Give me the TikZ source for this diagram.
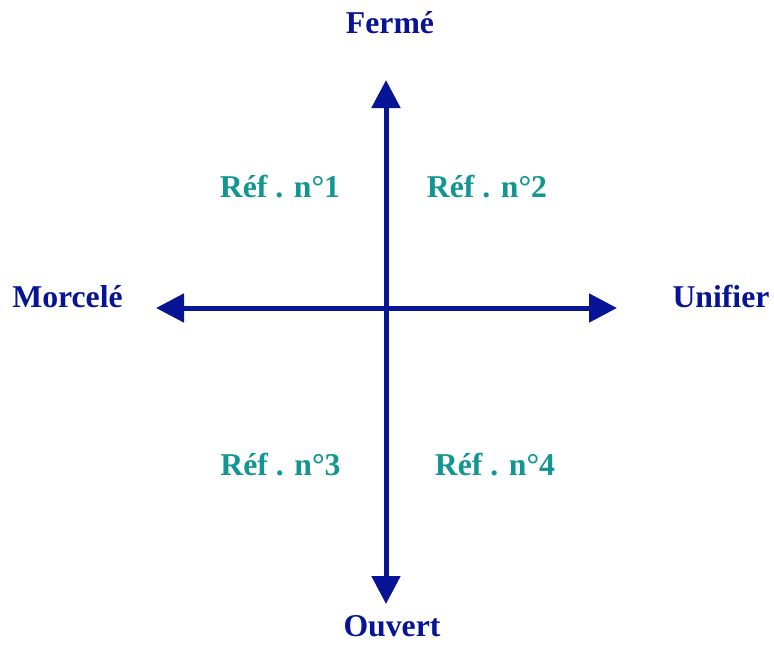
\documentclass[tikz,border=0pt]{standalone}
\usepackage{fontspec}
\setmainfont{Liberation Serif}
\usetikzlibrary{arrows.meta}
\definecolor{axisblue}{RGB}{8,20,150}
\definecolor{refteal}{RGB}{18,150,145}
\tikzset{
  axis/.style={draw=axisblue, line width=3.75pt, {Triangle[length=21pt,width=21pt]}-{Triangle[length=21pt,width=21pt]}},
  polelabel/.style={text=axisblue, font=\fontsize{23.8}{28}\selectfont\bfseries, anchor=base, inner sep=0pt},
  reflabel/.style={text=refteal, font=\fontsize{23.8}{28}\selectfont\bfseries, anchor=base, inner sep=0pt}
}
\begin{document}
\begin{tikzpicture}[x=0.75pt,y=-0.75pt]
\useasboundingbox (0,0) rectangle (774,644);
\coordinate (top) at (386,80);
\coordinate (bottom) at (386,604);
\coordinate (left) at (156,308);
\coordinate (right) at (617,308);
\draw[axis] (bottom) -- (top);
\draw[axis] (left) -- (right);
\node[polelabel] (ferme) at (390,33) {Fermé};
\node[polelabel] (ouvert) at (392,636) {Ouvert};
\node[polelabel] (morcele) at (67.5,307) {Morcelé};
\node[polelabel] (unifier) at (721,307) {Unifier};
\node[reflabel] (r1) at (280,197) {Réf . n°1};
\node[reflabel] (r2) at (487,197) {Réf . n°2};
\node[reflabel] (r3) at (280.5,475) {Réf . n°3};
\node[reflabel] (r4) at (495,475) {Réf . n°4};
\end{tikzpicture}
\end{document}
